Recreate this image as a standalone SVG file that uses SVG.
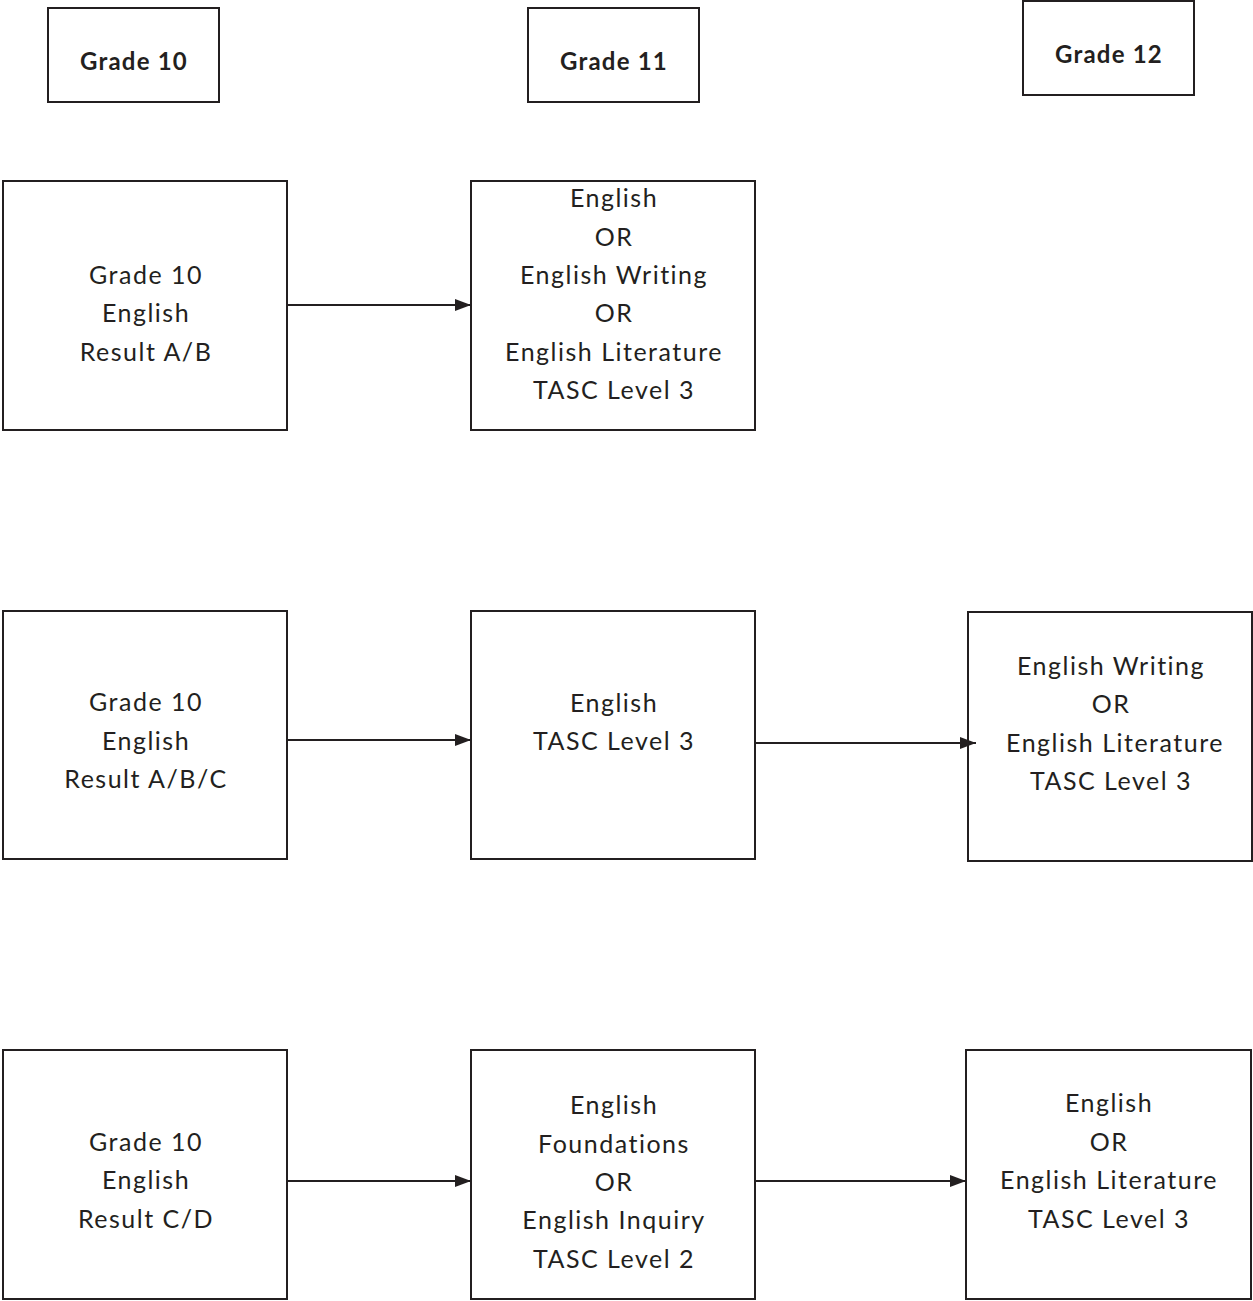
<svg xmlns="http://www.w3.org/2000/svg" width="1253" height="1301" viewBox="0 0 1253 1301">
  <style>
    .box { fill: #ffffff; stroke: #231f20; stroke-width: 2; }
    .hdr { font-family: Lato, "Open Sans", "Liberation Sans", sans-serif; font-weight: 700; font-size: 24px; letter-spacing: 1.2px; fill: #231f20; text-anchor: middle; }
    .lbl { font-family: Lato, "Open Sans", "Liberation Sans", sans-serif; font-weight: 400; font-size: 25px; letter-spacing: 1.5px; fill: #231f20; text-anchor: middle; }
    .edge { stroke: #231f20; stroke-width: 2; fill: none; marker-end: url(#arrow); }
  </style>
  <defs>
    <marker id="arrow" viewBox="0 0 16 12" refX="16" refY="6" markerWidth="16" markerHeight="12" markerUnits="userSpaceOnUse" orient="auto">
      <path d="M0,0 L16,6 L0,12 Z" fill="#231f20"/>
    </marker>
  </defs>

  <rect width="1253" height="1301" fill="#ffffff"/>

  <!-- column headers -->
  <g id="hdr-grade10">
    <rect class="box" x="48" y="8" width="171" height="94"/>
    <text class="hdr" x="134" y="70">Grade 10</text>
  </g>
  <g id="hdr-grade11">
    <rect class="box" x="528" y="8" width="171" height="94"/>
    <text class="hdr" x="614" y="70">Grade 11</text>
  </g>
  <g id="hdr-grade12">
    <rect class="box" x="1023" y="1" width="171" height="94"/>
    <text class="hdr" x="1109" y="63">Grade 12</text>
  </g>

  <!-- pathway 1 -->
  <g id="g10-ab">
    <rect class="box" x="3" y="181" width="284" height="249"/>
    <text class="lbl" x="146" y="284">Grade 10</text>
    <text class="lbl" x="146" y="322">English</text>
    <text class="lbl" x="146" y="361">Result A/B</text>
  </g>
  <g id="g11-english-options">
    <rect class="box" x="471" y="181" width="284" height="249"/>
    <text class="lbl" x="614" y="207">English</text>
    <text class="lbl" x="614" y="246">OR</text>
    <text class="lbl" x="614" y="284">English Writing</text>
    <text class="lbl" x="614" y="322">OR</text>
    <text class="lbl" x="614" y="361">English Literature</text>
    <text class="lbl" x="614" y="399">TASC Level 3</text>
  </g>

  <!-- pathway 2 -->
  <g id="g10-abc">
    <rect class="box" x="3" y="611" width="284" height="248"/>
    <text class="lbl" x="146" y="711">Grade 10</text>
    <text class="lbl" x="146" y="750">English</text>
    <text class="lbl" x="146" y="788">Result A/B/C</text>
  </g>
  <g id="g11-english">
    <rect class="box" x="471" y="611" width="284" height="248"/>
    <text class="lbl" x="614" y="712">English</text>
    <text class="lbl" x="614" y="750">TASC Level 3</text>
  </g>
  <g id="g12-writing-lit">
    <rect class="box" x="968" y="612" width="284" height="249"/>
    <text class="lbl" x="1111" y="675">English Writing</text>
    <text class="lbl" x="1111" y="713">OR</text>
    <text class="lbl" x="1115" y="752">English Literature</text>
    <text class="lbl" x="1111" y="790">TASC Level 3</text>
  </g>

  <!-- pathway 3 -->
  <g id="g10-cd">
    <rect class="box" x="3" y="1050" width="284" height="249"/>
    <text class="lbl" x="146" y="1151">Grade 10</text>
    <text class="lbl" x="146" y="1189">English</text>
    <text class="lbl" x="146" y="1228">Result C/D</text>
  </g>
  <g id="g11-foundations">
    <rect class="box" x="471" y="1050" width="284" height="249"/>
    <text class="lbl" x="614" y="1114">English</text>
    <text class="lbl" x="614" y="1153">Foundations</text>
    <text class="lbl" x="614" y="1191">OR</text>
    <text class="lbl" x="614" y="1229">English Inquiry</text>
    <text class="lbl" x="614" y="1268">TASC Level 2</text>
  </g>
  <g id="g12-english-lit">
    <rect class="box" x="966" y="1050" width="285" height="249"/>
    <text class="lbl" x="1109" y="1112">English</text>
    <text class="lbl" x="1109" y="1151">OR</text>
    <text class="lbl" x="1109" y="1189">English Literature</text>
    <text class="lbl" x="1109" y="1228">TASC Level 3</text>
  </g>

  <!-- connectors -->
  <g id="connectors">
    <line class="edge" x1="287" y1="305" x2="471" y2="305"/>
    <line class="edge" x1="287" y1="740" x2="471" y2="740"/>
    <line class="edge" x1="755" y1="743" x2="976" y2="743"/>
    <line class="edge" x1="287" y1="1181" x2="471" y2="1181"/>
    <line class="edge" x1="755" y1="1181" x2="966" y2="1181"/>
  </g>
</svg>
